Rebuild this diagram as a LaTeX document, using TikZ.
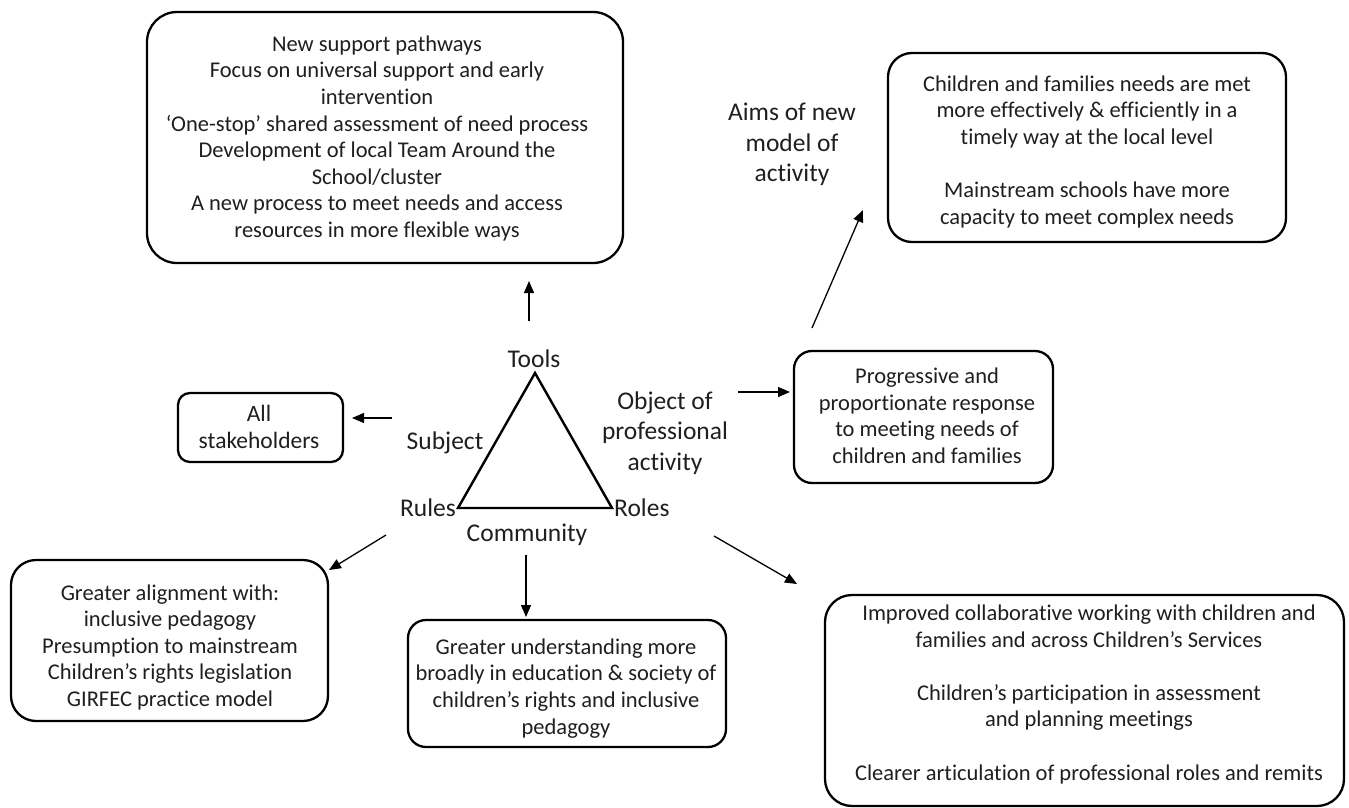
\documentclass[tikz,border=0pt]{standalone}
\usepackage{fontspec}
\setmainfont{Carlito}[RawFeature=-liga]
\usetikzlibrary{arrows.meta}
\newcommand\bxfont{\fontsize{22.5}{26.6}\selectfont}
\newcommand\lblfont{\fontsize{25.5}{30.5}\selectfont}
\begin{document}
\begin{tikzpicture}[x=1pt,y=-1pt,
  frame/.style={draw=black, line width=2.3pt, rounded corners=#1, inner sep=0pt},
  boxtext/.style={align=center, text=black!88, inner sep=0pt, font=\bxfont},
  lbl/.style={align=center, text=black!88, inner sep=0pt, font=\lblfont},
  arr/.style={draw=black, line width=1.3pt, -{Triangle[length=12pt,width=10pt]}},
  tri/.style={draw=black, line width=2.4pt, line join=miter}
]
\useasboundingbox[fill=white] (0,0) rectangle (1349,808);

% --- boxes ---
\node[frame=30pt, minimum width=476pt, minimum height=251pt] (tools box) at (385,137.5) {};
\node[boxtext] (tools text) at (377,138.3) {New support pathways\\
Focus on universal support and early\\ intervention\\
‘One-stop’ shared assessment of need process\\
Development of local Team Around the\\ School/cluster\\
A new process to meet needs and access\\ resources in more flexible ways};

\node[frame=24pt, minimum width=398pt, minimum height=189pt] (aims box) at (1087,147.5) {};
\node[boxtext] (aims text) at (1087,151.8) {Children and families needs are met\\
more effectively \& efficiently in a\\ timely way at the local level\\[26.6pt]
Mainstream schools have more\\ capacity to meet complex needs};

\node[frame=18pt, minimum width=259pt, minimum height=132pt] (object box) at (923.5,417) {};
\node[boxtext] (object text) at (927,415.8) {Progressive and\\ proportionate response\\ to meeting needs of\\ children and families};

\node[frame=12pt, minimum width=165pt, minimum height=69pt] (subject box) at (260.5,427.5) {};
\node[boxtext, font=\fontsize{23.5}{26.6}\selectfont] (subject text) at (259,426.8) {All\\ stakeholders};

\node[frame=25pt, minimum width=317pt, minimum height=161pt] (rules box) at (169.5,640.5) {};
\node[boxtext] (rules text) at (170,647.3) {Greater alignment with:\\ inclusive pedagogy\\ Presumption to mainstream\\ Children’s rights legislation\\ GIRFEC practice model};

\node[frame=18pt, minimum width=318pt, minimum height=127pt] (community box) at (567,683.5) {};
\node[boxtext] (community text) at (566,688.3) {Greater understanding more\\ broadly in education \& society of\\ children’s rights and inclusive\\ pedagogy};

\node[frame=27pt, minimum width=519pt, minimum height=211pt] (roles box) at (1084.5,700.5) {};
\node[boxtext] (roles text) at (1089,694.3) {Improved collaborative working with children and\\ families and across Children’s Services\\[26.6pt]
Children’s participation in assessment\\ and planning meetings\\[26.6pt]
Clearer articulation of professional roles and remits};

% --- activity triangle ---
\coordinate (apex) at (535,373);
\coordinate (left corner) at (458,508);
\coordinate (right corner) at (612,508);
\draw[tri] (apex) -- (left corner) -- (right corner) -- cycle;

\node[lbl, anchor=base] (tools) at (534,367) {Tools};
\node[lbl, anchor=base] (subject) at (445,449) {Subject};
\node[lbl, anchor=base east] (rules) at (456,516) {Rules};
\node[lbl, anchor=base west] (roles) at (614,516) {Roles};
\node[lbl, anchor=base] (community) at (527,541) {Community};
\node[lbl] (object) at (665,433) {Object of\\ professional\\ activity};
\node[lbl] (aims) at (792,144.5) {Aims of new\\ model of\\ activity};

% --- connectors ---
\coordinate (tools from) at (529,321);     \coordinate (tools to) at (529,281);
\coordinate (subject from) at (392,418);   \coordinate (subject to) at (352,418);
\coordinate (object from) at (738,392);    \coordinate (object to) at (790,392);
\coordinate (aims from) at (812,328);      \coordinate (aims to) at (863,210);
\coordinate (rules from) at (386,535);     \coordinate (rules to) at (329,570);
\coordinate (community from) at (526,555); \coordinate (community to) at (526,617);
\coordinate (roles from) at (714,536);     \coordinate (roles to) at (797,584);

\draw[arr] (tools from) -- (tools to);
\draw[arr] (subject from) -- (subject to);
\draw[arr] (object from) -- (object to);
\draw[arr] (aims from) -- (aims to);
\draw[arr] (rules from) -- (rules to);
\draw[arr] (community from) -- (community to);
\draw[arr] (roles from) -- (roles to);
\end{tikzpicture}
\end{document}
